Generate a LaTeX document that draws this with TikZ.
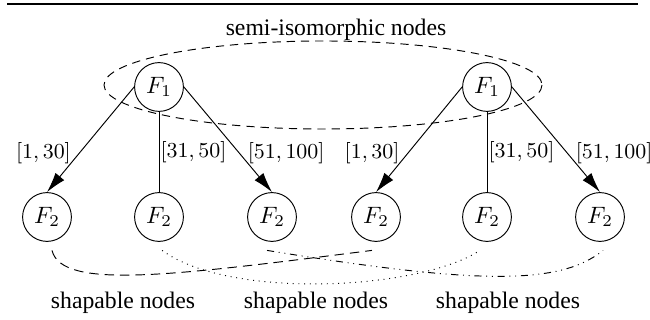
\documentclass[tikz,border=0pt]{standalone}
\usepackage{fontspec}
\setmainfont{Liberation Serif}
\usetikzlibrary{arrows.meta}

\begin{document}
\begin{tikzpicture}[x=0.422pt, y=-0.422pt,
  fnode/.style={draw, circle, fill=white, minimum size=20.6pt, inner sep=0pt},
  lbl/.style={font=\fontsize{8.6}{10}\selectfont},
  >={Latex[length=8.5pt,width=4.8pt]}]
\useasboundingbox (0,0) rectangle (650,320);
\draw[line width=1.2pt] (7,4) -- (638,4);
\node (semi) at (336,30) {semi-isomorphic nodes};
\draw[dash pattern=on 3.5pt off 2.5pt] (323,85) ellipse [x radius=219, y radius=44];
% left tree
\node[fnode] (rootL) at (159,87) {$F_1$};
\node[fnode] (l1) at (47,217) {$F_2$};
\node[fnode] (l2) at (159,217) {$F_2$};
\node[fnode] (l3) at (272,217) {$F_2$};
\draw[->] (rootL.west) -- node[lbl, left, pos=0.63] {$[1,30]$} (l1.north);
\draw (rootL.south) -- node[lbl, right, inner sep=0.5pt] {$[31,50]$} (l2.north);
\draw[->] (rootL.east) -- node[lbl, right, pos=0.63] {$[51,100]$} (l3.north);
% right tree
\node[fnode] (rootR) at (487,87) {$F_1$};
\node[fnode] (r1) at (376,217) {$F_2$};
\node[fnode] (r2) at (487,217) {$F_2$};
\node[fnode] (r3) at (600,217) {$F_2$};
\draw[->] (rootR.west) -- node[lbl, left, pos=0.63] {$[1,30]$} (r1.north);
\draw (rootR.south) -- node[lbl, right, inner sep=0.5pt] {$[31,50]$} (r2.north);
\draw[->] (rootR.east) -- node[lbl, right, pos=0.63] {$[51,100]$} (r3.north);
% shapable pairs
\draw[dash pattern=on 4pt off 2.5pt] ([xshift=2.1pt,yshift=-3.6pt]l1.south)
  .. controls (62,290) and (170,276) .. ([xshift=-1.7pt,yshift=-3.6pt]r1.south);
\draw[dotted] ([xshift=1.3pt,yshift=-3.6pt]l2.south)
  .. controls (230,300) and (420,290) .. ([xshift=-3pt,yshift=-3.6pt]r2.south);
\draw[dash dot dot] ([xshift=-2.1pt,yshift=-3.6pt]l3.south)
  .. controls (480,285) and (560,285) .. ([xshift=1.3pt,yshift=-3.6pt]r3.south);
\node (shapeA) at (123,303) {shapable nodes};
\node (shapeB) at (316,303) {shapable nodes};
\node (shapeC) at (508,303) {shapable nodes};
\end{tikzpicture}
\end{document}
